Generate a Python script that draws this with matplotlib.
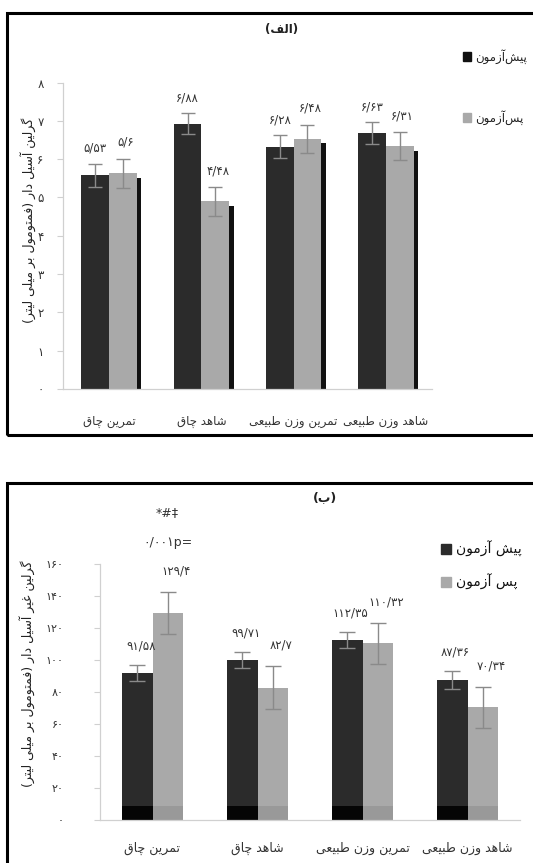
import matplotlib
matplotlib.use("Agg")
import matplotlib.pyplot as plt
from matplotlib.patches import Rectangle, Patch
import numpy as np

plt.rcParams['font.family'] = ['DejaVu Sans']

# ---------------- data ----------------
categories = ["تمرین چاق", "شاهد چاق", "تمرین وزن طبیعی", "شاهد وزن طبیعی"]
series_names_a = ["پیش‌آزمون", "پس‌آزمون"]
series_names_b = ["پیش آزمون", "پس آزمون"]

# panel (الف) acylated ghrelin
pre_a = [5.58, 6.93, 6.32, 6.68]
post_a = [5.63, 4.90, 6.53, 6.34]
pre_a_err = [0.30, 0.28, 0.30, 0.28]
post_a_err = [0.38, 0.37, 0.37, 0.37]
pre_a_labels = ["5/53", "6/88", "6/28", "6/63"]
post_a_labels = ["5/6", "4/48", "6/48", "6/31"]
yticks_a = [0, 1, 2, 3, 4, 5, 6, 7, 8]

# panel (ب) non-acylated ghrelin
pre_b = [91.58, 99.71, 112.35, 87.36]
post_b = [129.4, 82.7, 110.32, 70.34]
pre_b_err = [5.0, 5.0, 5.0, 5.5]
post_b_err = [13.0, 13.5, 13.0, 13.0]
pre_b_labels = ["91/58", "99/71", "112/35", "87/36"]
post_b_labels = ["129/4", "82/7", "110/32", "70/34"]
yticks_b = [0, 20, 40, 60, 80, 100, 120, 140, 160]

ylabel_a = "گرلین آسیل دار (فمتومول بر میلی لیتر)"
ylabel_b = "گرلین غیر آسیل دار (فمتومول بر میلی لیتر)"
title_a = "(الف)"
title_b = "(ب)"
sig_marks = "*#‡"
p_text = "0/001p="

# ---------------- Persian shaping helpers ----------------
FORMS = {
    'ا': ('\uFE8D', '\uFE8E', None, None),
    'آ': ('\uFE81', '\uFE82', None, None),
    'ب': ('\uFE8F', '\uFE90', '\uFE91', '\uFE92'),
    'پ': ('\uFB56', '\uFB57', '\uFB58', '\uFB59'),
    'ت': ('\uFE95', '\uFE96', '\uFE97', '\uFE98'),
    'چ': ('\uFB7A', '\uFB7B', '\uFB7C', '\uFB7D'),
    'د': ('\uFEA9', '\uFEAA', None, None),
    'ر': ('\uFEAD', '\uFEAE', None, None),
    'ز': ('\uFEAF', '\uFEB0', None, None),
    'س': ('\uFEB1', '\uFEB2', '\uFEB3', '\uFEB4'),
    'ش': ('\uFEB5', '\uFEB6', '\uFEB7', '\uFEB8'),
    'ط': ('\uFEC1', '\uFEC2', '\uFEC3', '\uFEC4'),
    'ع': ('\uFEC9', '\uFECA', '\uFECB', '\uFECC'),
    'غ': ('\uFECD', '\uFECE', '\uFECF', '\uFED0'),
    'ف': ('\uFED1', '\uFED2', '\uFED3', '\uFED4'),
    'ق': ('\uFED5', '\uFED6', '\uFED7', '\uFED8'),
    'گ': ('\uFB92', '\uFB93', '\uFB94', '\uFB95'),
    'ل': ('\uFEDD', '\uFEDE', '\uFEDF', '\uFEE0'),
    'م': ('\uFEE1', '\uFEE2', '\uFEE3', '\uFEE4'),
    'ن': ('\uFEE5', '\uFEE6', '\uFEE7', '\uFEE8'),
    'ه': ('\uFEE9', '\uFEEA', '\uFEEB', '\uFEEC'),
    'و': ('\uFEED', '\uFEEE', None, None),
    'ی': ('\uFBFC', '\uFBFD', '\uFBFE', '\uFBFF'),
}
MIRROR = {'(': ')', ')': '('}


def fa(text):
    chars = list(text)
    out = []
    for i, c in enumerate(chars):
        if c not in FORMS:
            if c == '\u200c':
                continue
            out.append(MIRROR.get(c, c))
            continue
        prev = chars[i - 1] if i > 0 else None
        nxt = chars[i + 1] if i + 1 < len(chars) else None
        con_prev = prev in FORMS and FORMS[prev][2] is not None
        con_next = nxt in FORMS and FORMS[c][2] is not None
        iso, fin, ini, med = FORMS[c]
        if con_prev and con_next:
            out.append(med)
        elif con_prev:
            out.append(fin)
        elif con_next:
            out.append(ini)
        else:
            out.append(iso)
    return ''.join(out[::-1])


DIG = str.maketrans("0123456789", "۰۱۲۳۴۵۶۷۸۹")


def fd(s):
    return str(s).translate(DIG)


# ---------------- figure ----------------
W, H = 533, 863
fig = plt.figure(figsize=(W / 100, H / 100), dpi=100)
fig.patch.set_facecolor('white')

DARK = '#2b2b2b'
GRAY = '#a9a9a9'
ERR = '#8a8a8a'
AXC = '#d0d0d0'
TXT = '#333333'


def px_box(x0, y0, x1, y1):
    return [x0 / W, 1 - y1 / H, (x1 - x0) / W, (y1 - y0) / H]


# panel borders
fig.patches.append(Rectangle((7 / W, 1 - 435 / H), 600 / W, (435 - 13) / H,
                             transform=fig.transFigure, fill=False,
                             edgecolor='black', linewidth=2.2, zorder=0))
fig.patches.append(Rectangle((7 / W, -0.1), 600 / W, (0.1 + 1 - 483 / H),
                             transform=fig.transFigure, fill=False,
                             edgecolor='black', linewidth=2.2, zorder=0))


def style_axes(ax, yticks, ymax):
    ax.set_xlim(-0.5, 3.5)
    ax.set_ylim(0, ymax)
    for s in ['top', 'right']:
        ax.spines[s].set_visible(False)
    for s in ['left', 'bottom']:
        ax.spines[s].set_color(AXC)
        ax.spines[s].set_linewidth(0.9)
    ax.set_yticks(yticks)
    ax.set_yticklabels([fd(t) for t in yticks])
    ax.tick_params(axis='y', colors=AXC, length=4, width=0.8, labelcolor=TXT,
                   labelsize=8.5, pad=10)
    ax.tick_params(axis='x', length=0)
    ax.set_xticks(range(len(categories)))
    ax.set_xticklabels([fa(c) for c in categories], fontsize=8.5, color=TXT)
    ax.patch.set_alpha(0)


x = np.arange(len(categories))

# ---------------- panel A ----------------
axA = fig.add_axes(px_box(63, 82.6, 432, 389))
bw = 0.3
axA.bar(x - bw, pre_a, width=bw, align='edge', color=DARK, zorder=2)
axA.bar(x, post_a, width=bw, align='edge', color=GRAY, zorder=2)
axA.bar(x + bw, np.array(post_a) - 0.12, width=0.05, align='edge', color='#111111', zorder=1)
axA.errorbar(x - bw / 2, pre_a, yerr=pre_a_err, fmt='none', ecolor=ERR,
             elinewidth=1, capsize=5, capthick=1, zorder=3)
axA.errorbar(x + bw / 2, post_a, yerr=post_a_err, fmt='none', ecolor=ERR,
             elinewidth=1, capsize=5, capthick=1, zorder=3)
for i in range(len(categories)):
    axA.text(x[i] - bw / 2, pre_a[i] + pre_a_err[i] + 0.4, fd(pre_a_labels[i]),
             ha='center', va='center', fontsize=8.5, color=TXT)
    axA.text(x[i] + bw / 2 + 0.03, post_a[i] + post_a_err[i] + 0.43, fd(post_a_labels[i]),
             ha='center', va='center', fontsize=8.5, color=TXT)
style_axes(axA, yticks_a, 8)
axA.tick_params(axis='x', pad=19)

fig.text(282 / W, 1 - 30 / H, fa(title_a), ha='center', va='center',
         fontsize=8.5, fontweight='bold', color='#222222')
fig.text(28 / W, 1 - 220 / H, fa(ylabel_a), rotation=90, ha='center', va='center',
         fontsize=9, color='#222222')

legA = axA.legend(handles=[Patch(facecolor='#111111', edgecolor='#111111'),
                           Patch(facecolor=GRAY, edgecolor=GRAY)],
                  labels=[fa(s) for s in series_names_a],
                  loc='upper left', bbox_to_anchor=(463 / W, 1 - 49 / H),
                  bbox_transform=fig.transFigure, frameon=False,
                  fontsize=8.5, handlelength=0.7, handleheight=0.7,
                  handletextpad=0.35, labelspacing=3.9, borderpad=0,
                  borderaxespad=0)
for t in legA.get_texts():
    t.set_color('#222222')

# ---------------- panel B ----------------
axB = fig.add_axes(px_box(100, 564, 520, 820))
bw2 = 0.286
axB.bar(x - bw2, pre_b, width=bw2, align='edge', color=DARK, zorder=2)
axB.bar(x, post_b, width=bw2, align='edge', color=GRAY, zorder=2)
axB.bar(x - bw2, [8.8] * len(x), width=bw2, align='edge', color='#050505', zorder=2.5)
axB.bar(x, [8.8] * len(x), width=bw2, align='edge', color='#999999', zorder=2.5)
axB.errorbar(x - bw2 / 2, pre_b, yerr=pre_b_err, fmt='none', ecolor=ERR,
             elinewidth=1, capsize=6, capthick=1, zorder=3)
axB.errorbar(x + bw2 / 2, post_b, yerr=post_b_err, fmt='none', ecolor=ERR,
             elinewidth=1, capsize=6, capthick=1, zorder=3)
for i in range(len(categories)):
    axB.text(x[i] - bw2 / 2 + 0.03, pre_b[i] + pre_b_err[i] + 12, fd(pre_b_labels[i]),
             ha='center', va='center', fontsize=8.5, color=TXT)
    axB.text(x[i] + bw2 / 2 + 0.08, post_b[i] + post_b_err[i] + 13, fd(post_b_labels[i]),
             ha='center', va='center', fontsize=8.5, color=TXT)
style_axes(axB, yticks_b, 160)
axB.tick_params(axis='y', labelsize=8, pad=22)
axB.tick_params(axis='x', pad=16, labelsize=9)

axB.text(x[0] + bw2 / 2, post_b[0] + post_b_err[0] + 31, fd(p_text), ha='center', va='center',
         fontsize=9, color=TXT)
axB.text(x[0] + bw2 / 2, post_b[0] + post_b_err[0] + 50, sig_marks, ha='center', va='center',
         fontsize=9, color=TXT)

fig.text(325 / W, 1 - 498 / H, fa(title_b), ha='center', va='center',
         fontsize=9, fontweight='bold', color='#222222')
fig.text(27 / W, 1 - 674 / H, fa(ylabel_b), rotation=90, ha='center', va='center',
         fontsize=9, color='#222222')

legB = axB.legend(handles=[Patch(facecolor=DARK, edgecolor=DARK),
                           Patch(facecolor=GRAY, edgecolor=GRAY)],
                  labels=[fa(s) for s in series_names_b],
                  loc='upper left', bbox_to_anchor=(441 / W, 1 - 541 / H),
                  bbox_transform=fig.transFigure, frameon=False,
                  fontsize=10, handlelength=0.75, handleheight=0.75,
                  handletextpad=0.35, labelspacing=1.2, borderpad=0,
                  borderaxespad=0)
for t in legB.get_texts():
    t.set_color('#111111')

fig.savefig('out.png', dpi=100)
